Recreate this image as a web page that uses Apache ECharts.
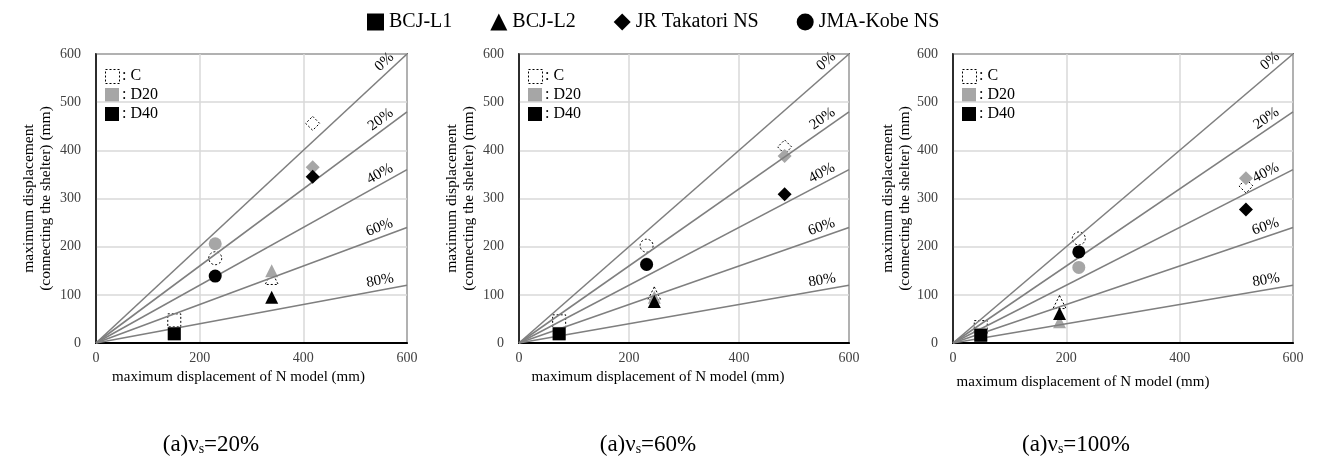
<!DOCTYPE html>
<html>
<head>
<meta charset="utf-8">
<script src="https://cdn.jsdelivr.net/npm/echarts@6/dist/echarts.min.js"></script>
<style>
html,body{margin:0;padding:0;background:#fff;}
#chart{width:1317px;height:463px;}
</style>
</head>
<body>
<div id="chart"></div>
<script>
// ---- data ----
const panelLabels = ['20%', '60%', '100%'];           // νs of each panel
const quakes = ['BCJ-L1', 'BCJ-L2', 'JR Takatori NS', 'JMA-Kobe NS'];
const quakeSymbols = ['rect', 'triangle', 'diamond', 'circle'];
const conditions = ['C', 'D20', 'D40'];
const reductions = [0, 20, 40, 60, 80];              // reference ratio lines (%)
const axisMin = 0, axisMax = 600;
const xInterval = 200, yInterval = 100;

// maximum displacement of N model (x), per quake
const nModel_20 = [151, 339, 418, 230];
const nModel_60 = [73, 246, 483, 232];
const nModel_100 = [49, 188, 517, 222];

// maximum displacement connecting the shelter (y), per quake
const shelterC_20 = [47, 135, 456, 176];
const shelterD20_20 = [20, 150, 365, 206];
const shelterD40_20 = [19, 95, 345, 139];

const shelterC_60 = [45, 103, 407, 202];
const shelterD20_60 = [20, 95, 388, 164];
const shelterD40_60 = [19, 86, 309, 163];

const shelterC_100 = [33, 85, 326, 217];
const shelterD20_100 = [18, 44, 342, 157];
const shelterD40_100 = [16, 61, 277, 189];

const nModel = [nModel_20, nModel_60, nModel_100];
const shelter = [
  [shelterC_20, shelterD20_20, shelterD40_20],
  [shelterC_60, shelterD20_60, shelterD40_60],
  [shelterC_100, shelterD20_100, shelterD40_100]
];

// ---- layout / style ----
const FONT = '"Liberation Serif", "Times New Roman", serif';
const grids = [
  {left: 96, top: 54, width: 311, height: 289},
  {left: 519, top: 54, width: 330, height: 289},
  {left: 953, top: 54, width: 340, height: 289}
];
const xNameShift = [26, 52, 80];
const xNameGap = [21, 26, 32];
const yNameGap = [42, 42, 38];
const condStyle = [
  {color: 'rgba(255,255,255,0)', borderColor: '#000', borderWidth: 1, borderType: [2, 2], opacity: 1},
  {color: '#a6a6a6', opacity: 1},
  {color: '#000', opacity: 1}
];

const xAxes = [], yAxes = [], series = [], graphics = [], titles = [];

grids.forEach((g, p) => {
  xAxes.push({
    gridIndex: p, type: 'value', min: axisMin, max: axisMax, interval: xInterval,
    axisLine: {show: true, onZero: false, lineStyle: {color: '#000', width: 2}},
    axisTick: {show: false},
    splitLine: {show: true, lineStyle: {color: '#d9d9d9', width: 1.5}},
    axisLabel: {color: '#404040', fontFamily: FONT, fontSize: 14, margin: 8},
    name: 'maximum displacement of N model (mm)',
    nameLocation: 'middle', nameGap: xNameGap[p],
    nameTextStyle: {color: '#000', fontFamily: FONT, fontSize: 15, padding: [0, xNameShift[p], 0, 0]}
  });
  yAxes.push({
    gridIndex: p, type: 'value', min: axisMin, max: axisMax, interval: yInterval,
    axisLine: {show: true, onZero: false, lineStyle: {color: '#000', width: 1.5}},
    axisTick: {show: false},
    splitLine: {show: true, lineStyle: {color: '#d9d9d9', width: 1.5}},
    axisLabel: {color: '#404040', fontFamily: FONT, fontSize: 14, margin: 15},
    name: 'maximum displacement\n(connecting the shelter) (mm)',
    nameLocation: 'middle', nameGap: yNameGap[p], nameRotate: 90,
    nameTextStyle: {color: '#000', fontFamily: FONT, fontSize: 15.5, lineHeight: 17}
  });

  // ratio reference lines
  series.push({
    type: 'scatter', xAxisIndex: p, yAxisIndex: p, data: [], silent: true, z: 1,
    markLine: {
      silent: true, symbol: ['none', 'none'], animation: false,
      lineStyle: {color: '#7f7f7f', width: 1.6, type: 'solid', opacity: 1},
      label: {show: true, position: 'insideEndTop', color: '#000', fontFamily: FONT, fontSize: 15, distance: [12, 2]},
      data: reductions.map(r => [
        {coord: [axisMin, axisMin], name: r + '%', label: {formatter: r + '%'}},
        {coord: [axisMax, axisMax * (1 - r / 100)]}
      ])
    }
  });

  // data points
  conditions.forEach((c, ci) => {
    series.push({
      name: c, type: 'scatter', xAxisIndex: p, yAxisIndex: p, z: 3 + ci,
      symbolSize: 13,
      itemStyle: condStyle[ci],
      data: quakes.map((q, qi) => ({
        value: [nModel[p][qi], shelter[p][ci][qi]],
        symbol: quakeSymbols[qi],
        symbolSize: quakeSymbols[qi] === 'diamond' ? 14 : 13
      }))
    });
  });

  // in-plot condition key
  const kx = g.left + 9, ky = g.top + 15;
  conditions.forEach((c, ci) => {
    const y = ky + ci * 19;
    graphics.push({
      type: 'rect', left: kx, top: y, shape: {width: 14, height: 14},
      style: ci === 0 ? {fill: '#fff', stroke: '#000', lineWidth: 1, lineDash: [2, 2]} : {fill: condStyle[ci].color}
    });
    graphics.push({
      type: 'text', left: kx + 17, top: y - 1,
      style: {text: ': ' + c, fill: '#000', font: '16px ' + FONT}
    });
  });

  titles.push({
    text: '(a)ν{s|s}=' + panelLabels[p],
    left: [206, 643, 1071][p], top: 428, textAlign: 'center',
    textStyle: {
      color: '#000', fontFamily: FONT, fontSize: 23, fontWeight: 'normal', lineHeight: 23,
      rich: {s: {fontFamily: FONT, fontSize: 14, lineHeight: 14, padding: [14, 0, 0, 0], verticalAlign: 'bottom', color: '#000'}}
    }
  });
});

// legend dummy series
quakes.forEach((q, qi) => {
  series.push({name: q, type: 'scatter', xAxisIndex: 0, yAxisIndex: 0, data: [], symbol: quakeSymbols[qi], itemStyle: {color: '#000', opacity: 1}});
});

const chart = echarts.init(document.getElementById('chart'), null, {renderer: 'canvas'});
chart.setOption({
  animation: false,
  backgroundColor: '#fff',
  title: titles,
  legend: {
    top: 7, left: 362, itemWidth: 17, itemHeight: 17, itemGap: 38,
    itemStyle: {opacity: 1},
    textStyle: {color: '#000', fontFamily: FONT, fontSize: 20},
    data: quakes.map((q, qi) => ({name: q, icon: quakeSymbols[qi], itemStyle: {color: '#000', opacity: 1}}))
  },
  grid: grids.map(g => Object.assign({show: true, borderColor: '#000', borderWidth: 1.5, backgroundColor: '#fff'}, g)),
  xAxis: xAxes,
  yAxis: yAxes,
  graphic: graphics,
  series: series
});
</script>
</body>
</html>
